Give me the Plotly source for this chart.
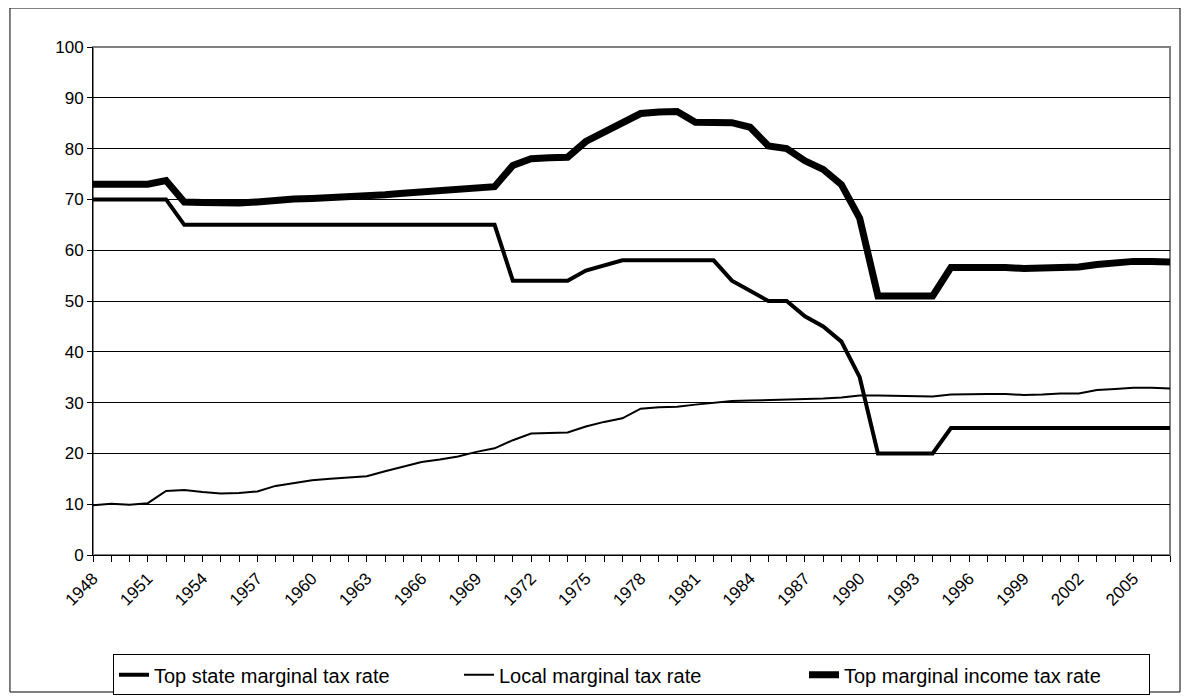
import plotly.graph_objects as go

years = list(range(1948, 2008))

top_income = [73.0, 73.0, 72.9, 73.0, 73.7, 69.5, 69.4, 69.3, 69.3, 69.5,
              69.9, 70.1, 70.2, 70.3, 70.4, 70.5, 70.9, 71.2, 71.5, 71.7,
              71.9, 72.2, 72.5, 76.7, 78.0, 78.2, 78.3, 81.4, 83.3, 85.2,
              86.9, 87.2, 87.3, 85.2, 85.2, 85.1, 84.2, 80.5, 80.0, 77.6,
              75.9, 72.9, 66.3, 51.0, 51.0, 51.0, 51.0, 56.6, 56.7, 56.7,
              56.6, 56.4, 56.5, 56.6, 56.7, 57.2, 57.6, 57.8, 57.8, 57.7]

state = [70, 70, 70, 70, 70, 65, 65, 65, 65, 65,
         65, 65, 65, 65, 65, 65, 65, 65, 65, 65,
         65, 65, 65, 54, 54, 54, 54, 56, 57, 58,
         58, 58, 58, 58, 58, 54, 52, 50, 50, 47,
         45, 42, 35, 20, 20, 20, 20, 25, 25, 25,
         25, 25, 25, 25, 25, 25, 25, 25, 25, 25]

local = [9.8, 10.1, 9.9, 10.2, 12.6, 12.8, 12.4, 12.1, 12.2, 12.5,
         13.6, 14.2, 14.7, 15.0, 15.3, 15.5, 16.5, 17.4, 18.3, 18.8,
         19.4, 20.3, 21.0, 22.6, 23.9, 24.0, 24.1, 25.3, 26.2, 26.9,
         28.8, 29.1, 29.2, 29.6, 29.9, 30.3, 30.4, 30.5, 30.5, 30.6,
         30.8, 31.0, 31.4, 31.4, 31.3, 31.2, 31.2, 31.6, 31.7, 31.7,
         31.7, 31.5, 31.6, 31.8, 31.8, 32.5, 32.7, 32.9, 32.9, 32.8]

tick_years = list(range(1948, 2007, 3))
tick_labels = [str(y) for y in tick_years]
y_ticks = list(range(0, 101, 10))

FONT = "Liberation Sans, Arial, sans-serif"

fig = go.Figure()
fig.add_trace(go.Scatter(x=years, y=state, mode="lines",
                         name="Top state marginal tax rate",
                         line=dict(color="black", width=4)))
fig.add_trace(go.Scatter(x=years, y=local, mode="lines",
                         name="Local marginal tax rate",
                         line=dict(color="black", width=2)))
fig.add_trace(go.Scatter(x=years, y=top_income, mode="lines",
                         name="Top marginal income tax rate",
                         line=dict(color="black", width=7)))

fig.update_layout(
    width=1181, height=692,
    margin=dict(l=85, r=19, t=39, b=145),
    paper_bgcolor="white", plot_bgcolor="white",
    font=dict(family=FONT, size=17, color="black"),
    showlegend=True,
    legend=dict(orientation="h", x=0.5, xanchor="center",
                yref="container", y=0.066, yanchor="top",
                bordercolor="black", borderwidth=1, font=dict(size=20),
                itemwidth=30, tracegroupgap=0, entrywidth=300),
    xaxis=dict(range=[1948, 2007], tickmode="array", tickvals=tick_years,
               ticktext=tick_labels, tickangle=-45, ticks="outside", ticklen=6,
               tickcolor="black", showline=True, linecolor="black", linewidth=1,
               showgrid=False, zeroline=False,
               minor=dict(dtick=1, tick0=1948, ticks="outside", ticklen=6,
                          tickcolor="black", showgrid=False)),
    yaxis=dict(range=[0, 100], tickmode="array", tickvals=y_ticks, ticks="outside",
               ticklen=5, tickcolor="black", showline=True, linecolor="black",
               linewidth=1, showgrid=True, gridcolor="black", gridwidth=1,
               zeroline=False),
    shapes=[
        dict(type="rect", xref="paper", yref="paper", x0=0, x1=1, y0=0, y1=1,
             line=dict(color="#808080", width=2), layer="below"),
        dict(type="rect", xref="paper", yref="paper", x0=-0.0771, x1=1.0093,
             y0=-0.2697, y1=1.0768, line=dict(color="black", width=1)),
    ],
)

fig.write_html("out.html")
